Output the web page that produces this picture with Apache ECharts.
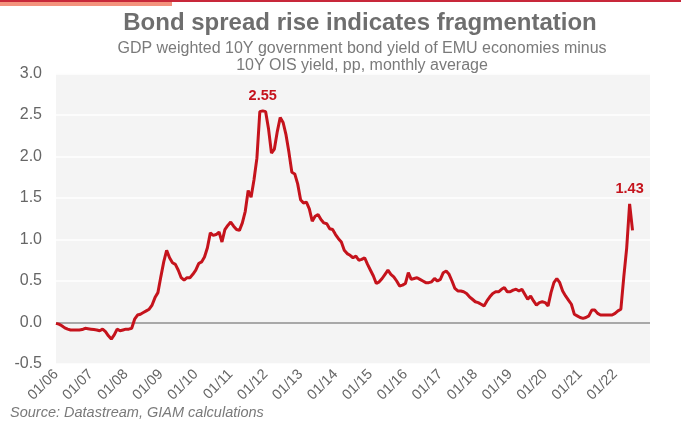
<!DOCTYPE html>
<html>
<head>
<meta charset="utf-8">
<script src="https://cdn.jsdelivr.net/npm/echarts@6/dist/echarts.min.js"></script>
<style>
html,body{margin:0;padding:0;background:#fff;}
#chart{width:681px;height:423px;}
</style>
</head>
<body>
<div id="chart"></div>
<script>
// ---- data ----
const titleText = 'Bond spread rise indicates fragmentation';
const subtitleText = 'GDP weighted 10Y government bond yield of EMU economies minus\n10Y OIS yield, pp, monthly average';
const sourceText = 'Source: Datastream, GIAM calculations';

const tickLabels = ['01/06','01/07','01/08','01/09','01/10','01/11','01/12','01/13','01/14',
  '01/15','01/16','01/17','01/18','01/19','01/20','01/21','01/22'];

// monthly spread (pp), Jan 2006 onwards
const spread2006 = [-0.01,-0.02,-0.04,-0.065,-0.08,-0.09,-0.09,-0.09,-0.09,-0.085,-0.07,-0.075];
const spread2007 = [-0.08,-0.085,-0.09,-0.10,-0.08,-0.11,-0.16,-0.20,-0.15,-0.08,-0.10,-0.09];
const spread2008 = [-0.08,-0.08,-0.07,0.04,0.09,0.10,0.12,0.14,0.16,0.21,0.30,0.36];
const spread2009 = [0.55,0.73,0.87,0.78,0.72,0.70,0.63,0.54,0.51,0.54,0.54,0.58];
const spread2010 = [0.63,0.71,0.73,0.79,0.90,1.08,1.05,1.06,1.09,0.97,1.12,1.17];
const spread2011 = [1.21,1.16,1.12,1.11,1.20,1.34,1.59,1.51,1.72,1.98,2.54,2.55];
const spread2012 = [2.54,2.33,2.04,2.09,2.30,2.47,2.41,2.26,2.05,1.81,1.79,1.67];
const spread2013 = [1.48,1.44,1.45,1.37,1.22,1.28,1.30,1.24,1.20,1.19,1.13,1.12];
const spread2014 = [1.06,1.01,0.97,0.87,0.83,0.81,0.78,0.80,0.75,0.76,0.78,0.70];
const spread2015 = [0.63,0.56,0.47,0.49,0.53,0.58,0.63,0.58,0.55,0.50,0.44,0.45];
const spread2016 = [0.47,0.60,0.52,0.53,0.54,0.52,0.50,0.48,0.48,0.49,0.53,0.50];
const spread2017 = [0.52,0.60,0.62,0.58,0.50,0.41,0.38,0.38,0.37,0.35,0.31,0.28];
const spread2018 = [0.25,0.24,0.22,0.20,0.26,0.31,0.35,0.37,0.37,0.40,0.42,0.37];
const spread2019 = [0.37,0.39,0.40,0.38,0.40,0.34,0.28,0.32,0.26,0.21,0.24,0.25];
const spread2020 = [0.24,0.20,0.36,0.48,0.53,0.48,0.38,0.32,0.27,0.22,0.10,0.08];
const spread2021 = [0.06,0.05,0.06,0.08,0.15,0.15,0.11,0.09,0.09,0.09,0.09,0.09];
const spread2022 = [0.11,0.14,0.16,0.55,0.90,1.43,1.11];

const spread = [].concat(spread2006,spread2007,spread2008,spread2009,spread2010,spread2011,
  spread2012,spread2013,spread2014,spread2015,spread2016,spread2017,spread2018,spread2019,
  spread2020,spread2021,spread2022);

// category axis: monthly, Jan 2006 .. Jan 2023
const months = [];
for (let y = 2006; y <= 2023; y++) {
  for (let m = 1; m <= 12; m++) {
    if (y === 2023 && m > 1) break;
    months.push(String(m).padStart(2,'0') + '/' + String(y % 100).padStart(2,'0'));
  }
}

// recent peak for label
let recentIdx = spread.length - 24;
for (let i = spread.length - 24; i < spread.length; i++) if (spread[i] > spread[recentIdx]) recentIdx = i;

const FONT = 'Liberation Sans, Arial, Helvetica, sans-serif';
const RED = '#c5131c';

const chart = echarts.init(document.getElementById('chart'), null, {renderer: 'canvas'});
chart.setOption({
  animation: false,
  backgroundColor: '#ffffff',
  textStyle: {fontFamily: FONT},
  title: [
    {text: titleText, left: 355, top: 6, textAlign: 'center',
     textStyle: {fontFamily: FONT, fontSize: 24, fontWeight: 'bold', color: '#6e6e6e'}},
    {text: subtitleText, left: 357, top: 35, textAlign: 'center',
     textStyle: {fontFamily: FONT, fontSize: 16, fontWeight: 'normal', color: '#7a7a7a', lineHeight: 17}}
  ],
  graphic: [
    {type: 'rect', left: 0, top: 0, shape: {width: 681, height: 2}, style: {fill: '#c8283a'}, silent: true},
    {type: 'rect', left: 0, top: 2, shape: {width: 172, height: 4}, style: {fill: '#f4937d'}, silent: true},
    {type: 'text', left: 10, top: 405, style: {text: sourceText, fill: '#7a7a7a',
      font: 'italic 14.5px ' + FONT}, silent: true}
  ],
  grid: {left: 56, right: 31, top: 73.5, bottom: 59, show: true, backgroundColor: '#f4f4f4', borderWidth: 0},
  xAxis: {
    type: 'category',
    data: months,
    boundaryGap: false,
    axisLine: {show: false, onZero: false},
    axisTick: {show: false},
    splitLine: {show: false},
    axisLabel: {
      rotate: 45,
      margin: 8,
      color: '#666666',
      fontSize: 14.5,
      fontFamily: FONT,
      interval: function (idx, val) { return tickLabels.indexOf(val) >= 0; },
      formatter: function (val) { return val; }
    }
  },
  yAxis: {
    type: 'value',
    min: -0.5, max: 3, interval: 0.5,
    axisLine: {show: false},
    axisTick: {show: false},
    axisLabel: {color: '#666666', fontSize: 16, fontFamily: FONT, margin: 14,
      formatter: function (v) { return v.toFixed(1); }},
    splitLine: {show: true, lineStyle: {color: '#ffffff', width: 1.5}}
  },
  series: [{
    type: 'line',
    data: spread,
    showSymbol: false,
    smooth: false,
    lineStyle: {color: RED, width: 3},
    itemStyle: {color: RED},
    z: 3,
    markLine: {
      silent: true, symbol: 'none', z: 2,
      label: {show: false},
      lineStyle: {color: '#8c8c8c', width: 1.5, type: 'solid'},
      data: [{yAxis: 0}]
    },
    markPoint: {
      symbol: 'circle', symbolSize: 0, silent: true,
      label: {show: true, position: 'top', distance: 7, color: RED, fontWeight: 'bold',
        fontSize: 14.5, fontFamily: FONT, formatter: function (p) { return Number(p.value).toFixed(2); }},
      data: [
        {type: 'max'},
        {coord: [recentIdx, spread[recentIdx]], value: spread[recentIdx]}
      ]
    }
  }]
});
</script>
</body>
</html>
